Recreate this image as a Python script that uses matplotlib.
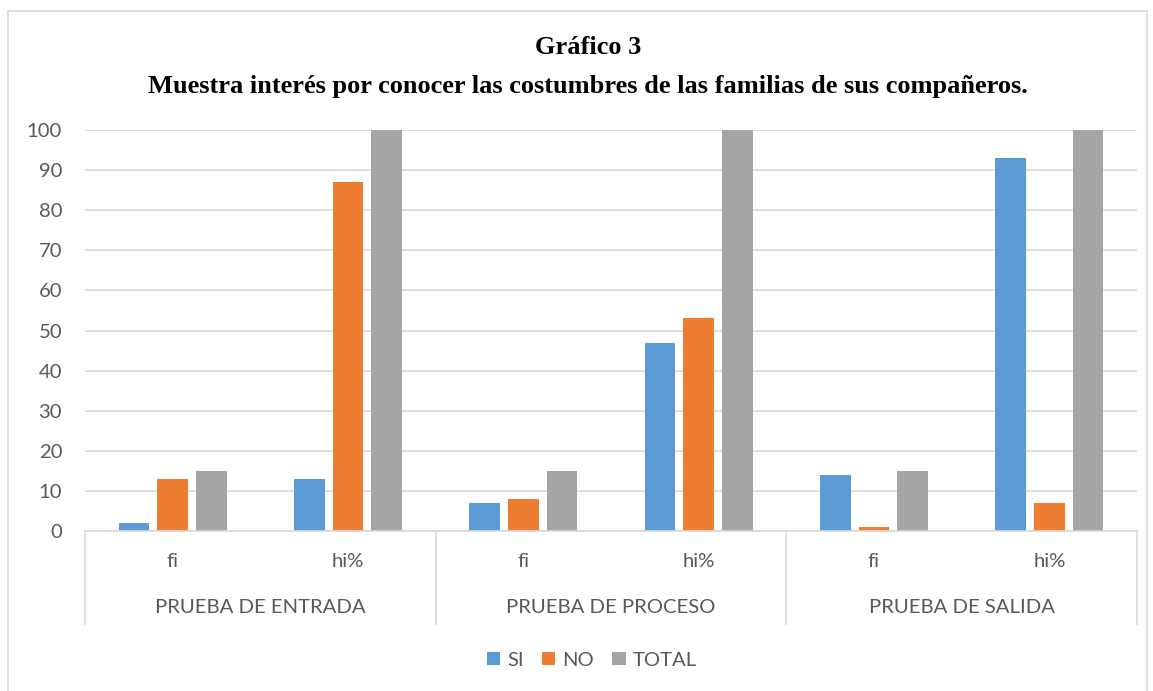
import matplotlib
matplotlib.use("Agg")
import matplotlib.pyplot as plt
from matplotlib.patches import Rectangle
from matplotlib.transforms import blended_transform_factory

groups = ["PRUEBA DE ENTRADA", "PRUEBA DE PROCESO", "PRUEBA DE SALIDA"]
subcats = ["fi", "hi%"]
series_names = ["SI", "NO", "TOTAL"]
si_vals = [2, 13, 7, 47, 14, 93]
no_vals = [13, 87, 8, 53, 1, 7]
total_vals = [15, 100, 15, 100, 15, 100]
yticks = list(range(0, 101, 10))
colors = ["#5B9BD5", "#ED7D31", "#A5A5A5"]

W, H = 1153, 691
fig = plt.figure(figsize=(W / 100, H / 100), dpi=100)
fig.patch.set_facecolor("white")
fig.patches.append(Rectangle((8 / W, -0.01), (1147 - 8) / W, 1 - 11 / H + 0.01,
                             transform=fig.transFigure, fill=False,
                             edgecolor="#D9D9D9", linewidth=1.2))

ax = fig.add_axes([85 / W, 1 - 531 / H, (1137 - 85) / W, (531 - 130) / H])
font = "Lato"
tc = "#595959"
fs = 14.6

n = len(si_vals)
xs = list(range(n))
offsets = [-0.22, 0.0, 0.22]
bw = 0.175
for vals, off, c, name in zip([si_vals, no_vals, total_vals], offsets, colors, series_names):
    ax.bar([x + off for x in xs], vals, width=bw, color=c, label=name, zorder=3)

ax.set_xlim(-0.5, n - 0.5)
ax.set_ylim(0, 100)
ax.set_yticks(yticks)
ax.set_yticklabels([str(v) for v in yticks], fontsize=fs, color=tc, fontfamily=font)
ax.tick_params(axis="y", length=0, pad=16.5)
ax.set_xticks([])
ax.grid(axis="y", color="#D9D9D9", linewidth=1.2, zorder=0)
for s in ["top", "right", "left"]:
    ax.spines[s].set_visible(False)
ax.spines["bottom"].set_color("#D9D9D9")
ax.spines["bottom"].set_linewidth(1.2)
ax.spines["bottom"].set_zorder(4)

tr = blended_transform_factory(ax.transData, ax.transAxes)
for i, x in enumerate(xs):
    ax.text(x, -0.077, subcats[i % 2], transform=tr, ha="center", va="center",
            fontsize=fs, color=tc, fontfamily=font)
for g, name in enumerate(groups):
    ax.text(2 * g + 0.5, -0.19, name, transform=tr, ha="center", va="center",
            fontsize=fs, color=tc, fontfamily=font)
for b in [-0.5, 1.5, 3.5, 5.5]:
    ax.plot([b, b], [0, -0.232], transform=tr, color="#D9D9D9", linewidth=1.2, clip_on=False)

fig.text(588 / W, 1 - 47 / H, "Gráfico 3", ha="center", va="center",
         fontsize=19, fontweight="bold", fontfamily="Liberation Serif")
fig.text(588 / W, 1 - 86 / H, "Muestra interés por conocer las costumbres de las familias de sus compañeros.",
         ha="center", va="center", fontsize=19, fontweight="bold", fontfamily="Liberation Serif")

leg = fig.legend(loc="center", bbox_to_anchor=(592 / W, 1 - 660 / H), ncol=3, frameon=False,
                 handlelength=0.65, handleheight=0.65, handletextpad=0.35, columnspacing=0.9,
                 prop={"family": font, "size": fs})
for t in leg.get_texts():
    t.set_color(tc)

fig.savefig("out.png", dpi=100)
